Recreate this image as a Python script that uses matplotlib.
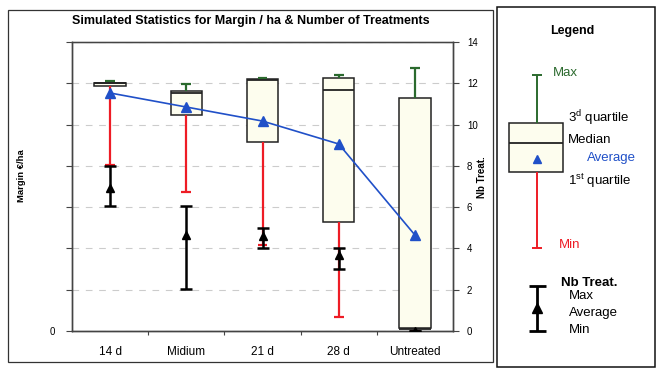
import matplotlib.pyplot as plt
from matplotlib.patches import Rectangle

plt.rcParams['font.family'] = ['Liberation Sans', 'DejaVu Sans']
plt.rcParams['mathtext.fontset'] = 'custom'
plt.rcParams['mathtext.rm'] = 'Liberation Sans'

# --- data ---
categories = ["14 d", "Midium", "21 d", "28 d", "Untreated"]

# margin in €/ha (left axis, only "0" labelled)
margin_max = [1211, 1197, 1226, 1240, 1274]
margin_q3 = [1202, 1163, 1221, 1226, 1129]
margin_med = [1200, 1153, 1216, 1168, 10]
margin_q1 = [1187, 1047, 916, 528, 15]
margin_min = [804, 673, 417, 68, 0]
margin_avg = [1153, 1085, 1017, 906, 465]

# number of treatments (right axis)
nb_max = [8.0, 6.06, 4.99, 4.02, 0]
nb_avg = [6.93, 4.65, 4.62, 3.68, 0]
nb_min = [6.06, 2.03, 4.02, 3.00, 0]

nb_ticks = list(range(0, 15, 2))

C_GREEN = '#2b6a2e'
C_RED = '#ee1c25'
C_BLUE = '#2050c8'
C_BOX = '#fdfdee'

W, H = 657, 369
fig = plt.figure(figsize=(W / 100, H / 100), dpi=100)


def fx(px):
    return px / W


def fy(py):
    return 1 - py / H


# panel frames
fig.patches.append(Rectangle((fx(8), fy(362)), fx(485), 352 / H, transform=fig.transFigure,
                             fill=False, ec='#333333', lw=0.9))
fig.patches.append(Rectangle((fx(497), fy(367)), fx(158), 360 / H, transform=fig.transFigure,
                             fill=False, ec='#111111', lw=1.1))

ax = fig.add_axes([fx(72), fy(331), fx(453 - 72), (331 - 42) / H])
ax2 = ax.twinx()

x = list(range(len(categories)))
bw = 0.41
cap = 0.065

# boxes
ax.bar(x, [q3 - q1 for q1, q3 in zip(margin_q1, margin_q3)], bottom=margin_q1, width=bw,
       color=C_BOX, edgecolor='#222222', linewidth=1.1, zorder=2)
ax.hlines(margin_med, [i - bw / 2 for i in x], [i + bw / 2 for i in x], colors='#222222',
          linewidth=1.3, zorder=3)
# whiskers
ax.vlines(x, margin_q3, margin_max, colors=C_GREEN, linewidth=1.6, zorder=2)
ax.hlines(margin_max, [i - cap for i in x], [i + cap for i in x], colors=C_GREEN, linewidth=1.6, zorder=2)
ax.vlines(x, margin_min, margin_q1, colors=C_RED, linewidth=1.6, zorder=2)
ax.hlines(margin_min, [i - cap for i in x], [i + cap for i in x], colors=C_RED, linewidth=1.6, zorder=2)
# averages
ax.plot(x, margin_avg, color=C_BLUE, linewidth=1.2, marker='^', markersize=7, zorder=4)

ax.set_xlim(-0.5, len(categories) - 0.5)
ax.set_ylim(0, 1400)
ax.set_yticks(range(0, 1401, 200))
ax.set_yticklabels(['0'] + [''] * 7)
ax.grid(axis='y', color='#cccccc', linestyle=(0, (6, 6)), linewidth=0.8)
ax.set_axisbelow(True)
ax.set_xticks([i + 0.5 for i in x[:-1]])
ax.set_xticklabels([])
ax.set_xticks(x, minor=True)
ax.set_xticklabels(categories, minor=True)
ax.tick_params(axis='x', which='major', length=3, color='#444444')
ax.tick_params(axis='x', which='minor', length=0, labelsize=8.5, pad=11)
ax.tick_params(axis='y', length=4, labelsize=7, color='#444444', pad=8)

ax2.errorbar(x, nb_avg, yerr=[[a - m for a, m in zip(nb_avg, nb_min)],
                              [m - a for m, a in zip(nb_max, nb_avg)]],
             fmt='^', color='black', markersize=6, elinewidth=1.8, capsize=4,
             capthick=1.8, zorder=5)
ax2.set_ylim(0, 14)
ax2.set_yticks(nb_ticks)
ax2.tick_params(axis='y', length=4, labelsize=7, color='#444444', pad=6)

for a in (ax, ax2):
    for s in a.spines.values():
        s.set_color('#444444')
        s.set_linewidth(1.0)
ax.spines['top'].set_color('#999999')

fig.text(fx(251), fy(21), "Simulated Statistics for Margin / ha & Number of Treatments",
         ha='center', va='center', fontsize=9, fontweight='bold')
fig.text(fx(22), fy(176), "Margin €/ha", rotation=90, ha='center', va='center',
         fontsize=6.8, fontweight='bold')
fig.text(fx(482), fy(177), "Nb Treat.", rotation=90, ha='center', va='center',
         fontsize=7, fontweight='bold')

# --- legend panel, drawn in pixel coordinates ---
lg = fig.add_axes([fx(497), fy(367), fx(158), 360 / H])
lg.set_xlim(497, 655)
lg.set_ylim(367, 7)
lg.axis('off')

lg.vlines(537, 75, 123, colors=C_GREEN, linewidth=1.4)
lg.hlines(75, 532, 542, colors=C_GREEN, linewidth=1.4)
lg.vlines(537, 172, 248, colors=C_RED, linewidth=1.4)
lg.hlines(248, 532, 542, colors=C_RED, linewidth=1.4)
lg.add_patch(Rectangle((509, 123), 54, 49, fc=C_BOX, ec='#222222', lw=1.1))
lg.hlines(143, 509, 563, colors='#222222', linewidth=1.3)
lg.plot([537], [159], marker='^', color=C_BLUE, markersize=6)
lg.vlines(537, 286, 331, colors='black', linewidth=2)
lg.hlines([286, 331], 529, 546, colors='black', linewidth=2)
lg.plot([537], [308], marker='^', color='black', markersize=7)

fs = 9.5
lg.text(572, 31, "Legend", ha='center', va='center', fontsize=9, fontweight='bold')
lg.text(553, 73, "Max", color=C_GREEN, va='center', fontsize=fs)
lg.text(568, 118, r"3$^{\mathrm{d}}$ quartile", va='center', fontsize=fs)
lg.text(568, 140, "Median", va='center', fontsize=fs)
lg.text(587, 158, "Average", color=C_BLUE, va='center', fontsize=fs)
lg.text(568, 181, r"1$^{\mathrm{st}}$ quartile", va='center', fontsize=fs)
lg.text(559, 245, "Min", color=C_RED, va='center', fontsize=fs)
lg.text(561, 283, "Nb Treat.", va='center', fontsize=fs, fontweight='bold')
lg.text(569, 296, "Max", va='center', fontsize=fs)
lg.text(569, 313, "Average", va='center', fontsize=fs)
lg.text(569, 330, "Min", va='center', fontsize=fs)

fig.savefig('out.png', dpi=100)
